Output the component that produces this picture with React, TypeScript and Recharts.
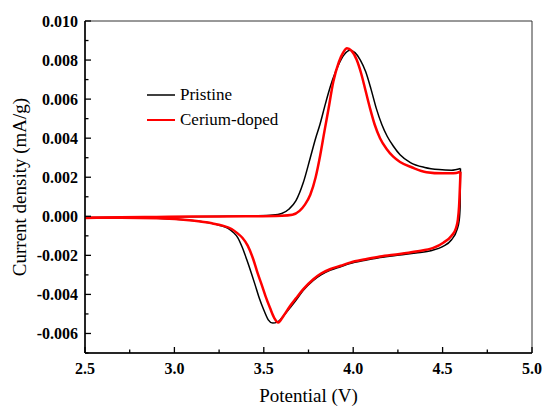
import React from 'react';
import { LineChart, Line, XAxis, YAxis, ReferenceArea, Legend } from 'recharts';

const FONT = '"Liberation Serif", "Times New Roman", "DejaVu Serif", serif';

// axis ticks
const potentialTicks = [2.5, 3.0, 3.5, 4.0, 4.5, 5.0];
const potentialMinorTicks = [2.75, 3.25, 3.75, 4.25, 4.75];
const currentTicks = [-0.006, -0.004, -0.002, 0, 0.002, 0.004, 0.006, 0.008, 0.01];
const currentMinorTicks = [-0.007, -0.005, -0.003, -0.001, 0.001, 0.003, 0.005, 0.007, 0.009];

const seriesOrder = ['Pristine', 'Cerium-doped'];

// [potential (V), current density (mA/g)]
// each CV loop is split in its anodic (upper) and cathodic (lower) branch, both listed by rising potential
const pristineAnodic: [number, number][] = [
  [2.5, -0.00008], [2.7, -0.00005], [2.9, -0.00003], [3.1, -0.00002], [3.3, 0.0],
  [3.45, 0.00002], [3.55, 0.00006], [3.6, 0.00014], [3.64, 0.00036], [3.68, 0.0008],
  [3.72, 0.0017], [3.76, 0.003], [3.79, 0.004], [3.814, 0.0047], [3.84, 0.0056],
  [3.861, 0.0063], [3.885, 0.007], [3.92, 0.0078], [3.95, 0.00828], [3.982, 0.0085],
  [4.01, 0.00838], [4.04, 0.008], [4.07, 0.0074], [4.1, 0.0065], [4.13, 0.0055],
  [4.16, 0.0047], [4.19, 0.0041], [4.224, 0.0036], [4.262, 0.00315], [4.32, 0.00275],
  [4.4, 0.0025], [4.48, 0.00239], [4.55, 0.00236], [4.6, 0.00245],
];

const pristineCathodic: [number, number][] = [
  [2.5, -0.00006], [2.7, -0.00007], [2.9, -0.0001], [3.1, -0.00022], [3.2, -0.00035],
  [3.25, -0.00046], [3.3, -0.00062], [3.33, -0.00083], [3.355, -0.0011], [3.38, -0.0016],
  [3.404, -0.0022], [3.43, -0.0029], [3.451, -0.0035], [3.475, -0.0042], [3.5, -0.0048],
  [3.525, -0.0053], [3.55, -0.00547], [3.575, -0.00542], [3.61, -0.0051], [3.647, -0.00468],
  [3.68, -0.0043], [3.72, -0.0038], [3.777, -0.00328], [3.82, -0.003], [3.87, -0.00277],
  [3.93, -0.00258], [3.982, -0.00242], [4.07, -0.00225], [4.15, -0.00211], [4.26, -0.00198],
  [4.35, -0.00188], [4.44, -0.00175], [4.5, -0.00155], [4.55, -0.0012], [4.58, -0.0007],
  [4.593, -0.0002], [4.598, 0.0005], [4.6, 0.00245],
];

const ceriumAnodic: [number, number][] = [
  [2.5, -0.00009], [2.7, -0.00005], [2.9, -0.00003], [3.1, -0.00001], [3.4, 0.0],
  [3.6, 0.00003], [3.66, 0.00008], [3.7, 0.00028], [3.73, 0.0006], [3.76, 0.0011],
  [3.79, 0.002], [3.815, 0.0031], [3.84, 0.0044], [3.86, 0.0054], [3.889, 0.0069],
  [3.92, 0.0079], [3.945, 0.0084], [3.965, 0.0086], [3.99, 0.00848], [4.02, 0.008],
  [4.045, 0.0073], [4.07, 0.0064], [4.095, 0.0055], [4.12, 0.0047], [4.15, 0.004],
  [4.187, 0.00345], [4.224, 0.00305], [4.262, 0.00278], [4.33, 0.0025], [4.41, 0.00226],
  [4.5, 0.0022], [4.56, 0.0022], [4.6, 0.00228],
];

const ceriumCathodic: [number, number][] = [
  [2.5, -0.00008], [2.7, -0.00008], [2.91, -0.0001], [3.1, -0.00022], [3.21, -0.00036],
  [3.27, -0.00048], [3.32, -0.00065], [3.35, -0.00085], [3.38, -0.0011], [3.41, -0.0015],
  [3.441, -0.0022], [3.465, -0.0029], [3.488, -0.0035], [3.51, -0.0041], [3.535, -0.0047],
  [3.558, -0.0052], [3.581, -0.00544], [3.61, -0.0051], [3.647, -0.00459], [3.68, -0.0042],
  [3.721, -0.00373], [3.777, -0.00322], [3.82, -0.00293], [3.87, -0.00271], [3.93, -0.00253],
  [3.982, -0.00237], [4.07, -0.0022], [4.15, -0.00206], [4.26, -0.00193], [4.35, -0.0018],
  [4.448, -0.00162], [4.504, -0.00135], [4.55, -0.001], [4.575, -0.0006], [4.585, -0.0002],
  [4.592, 0.0005], [4.6, 0.00228],
];

const toPoints = (pairs: [number, number][]) => pairs.map(([v, j]) => ({ v, j }));

const isIn = (list: number[], v: number) => list.some((t) => Math.abs(t - v) < 1e-9);

const X_GAP = 10;
const Y_GAP = 7;

const PotentialTick = (props: any) => {
  const { x, y, payload } = props;
  const v = payload.value;
  const major = isIn(potentialTicks, v);
  const axisY = y - X_GAP;
  return (
    <g>
      <line x1={x} x2={x} y1={axisY} y2={axisY - (major ? 6 : 3.5)} stroke="#000" strokeWidth={1.3} />
      {major && (
        <text x={x} y={y} dy="0.71em" textAnchor="middle" style={{ fontFamily: FONT }} fontWeight="bold" fontSize={16} fill="#000">
          {v.toFixed(1)}
        </text>
      )}
    </g>
  );
};

const CurrentTick = (props: any) => {
  const { x, y, payload } = props;
  const v = payload.value;
  const major = isIn(currentTicks, v);
  const axisX = x + Y_GAP;
  return (
    <g>
      <line x1={axisX} x2={axisX + (major ? 6 : 3.5)} y1={y} y2={y} stroke="#000" strokeWidth={1.3} />
      {major && (
        <text x={x} y={y} dy="0.36em" textAnchor="end" style={{ fontFamily: FONT }} fontWeight="bold" fontSize={16} fill="#000">
          {v.toFixed(3)}
        </text>
      )}
    </g>
  );
};

// only the two named series go in the legend, in plot order
const LegendBox = (props: any) => {
  const items = (props.payload || [])
    .filter((e: any) => seriesOrder.includes(e.value))
    .sort((a: any, b: any) => seriesOrder.indexOf(a.value) - seriesOrder.indexOf(b.value));
  return (
    <div style={{ fontFamily: FONT, fontSize: 17, color: '#000' }}>
      {items.map((entry: any) => (
        <div key={entry.value} style={{ display: 'flex', alignItems: 'center', height: 25 }}>
          <svg width={28} height={6} style={{ marginRight: 5 }}>
            <line x1={0} x2={28} y1={3} y2={3} stroke={entry.color} strokeWidth={entry.color === '#000' ? 1.5 : 2} />
          </svg>
          <span style={{ lineHeight: '25px' }}>{entry.value}</span>
        </div>
      ))}
    </div>
  );
};

export default function App() {
  const allX = [...potentialTicks, ...potentialMinorTicks].sort((a, b) => a - b);
  const allY = [...currentTicks, ...currentMinorTicks].sort((a, b) => a - b);

  return (
    <div style={{ position: 'absolute', left: 0, top: 0, background: '#fff', fontFamily: FONT }}>
      <LineChart width={544} height={407} margin={{ top: 21, right: 12, left: 0, bottom: 0 }} style={{ fontFamily: FONT }}>
        <XAxis
          dataKey="v"
          type="number"
          domain={[2.5, 5]}
          ticks={allX}
          interval={0}
          tickSize={0}
          tickMargin={X_GAP}
          tickLine={false}
          axisLine={{ stroke: '#000', strokeWidth: 1.5 }}
          tick={(p: any) => <PotentialTick {...p} />}
          height={54}
          label={{ value: 'Potential (V)', position: 'insideBottom', offset: 5, fontSize: 19, fill: '#000', style: { fontFamily: FONT } }}
        />
        <YAxis
          dataKey="j"
          type="number"
          domain={[-0.007, 0.01]}
          ticks={allY}
          interval={0}
          tickSize={0}
          tickMargin={Y_GAP}
          tickLine={false}
          axisLine={{ stroke: '#000', strokeWidth: 1.5 }}
          tick={(p: any) => <CurrentTick {...p} />}
          width={85}
          label={{
            value: 'Current density (mA/g)',
            angle: -90,
            position: 'insideLeft',
            offset: 19,
            fontSize: 19,
            fill: '#000',
            style: { textAnchor: 'middle', fontFamily: FONT },
          }}
        />
        <ReferenceArea x1={2.5} x2={5} y1={-0.007} y2={0.01} fill="none" stroke="#333" strokeWidth={1} />
        <Legend
          layout="vertical"
          align="center"
          verticalAlign="middle"
          wrapperStyle={{ left: 147, top: 82, width: 'auto' }}
          content={(p: any) => <LegendBox {...p} />}
        />
        <Line data={toPoints(pristineAnodic)} dataKey="j" name="Pristine" type="monotoneX"
          stroke="#000" strokeWidth={1.5} dot={false} isAnimationActive={false} />
        <Line data={toPoints(pristineCathodic)} dataKey="j" name="Pristine (cathodic)" legendType="none" type="monotoneX"
          stroke="#000" strokeWidth={1.5} dot={false} isAnimationActive={false} />
        <Line data={toPoints(ceriumAnodic)} dataKey="j" name="Cerium-doped" type="monotoneX"
          stroke="#ff0000" strokeWidth={2.5} dot={false} isAnimationActive={false} />
        <Line data={toPoints(ceriumCathodic)} dataKey="j" name="Cerium-doped (cathodic)" legendType="none" type="monotoneX"
          stroke="#ff0000" strokeWidth={2.5} dot={false} isAnimationActive={false} />
      </LineChart>
    </div>
  );
}
